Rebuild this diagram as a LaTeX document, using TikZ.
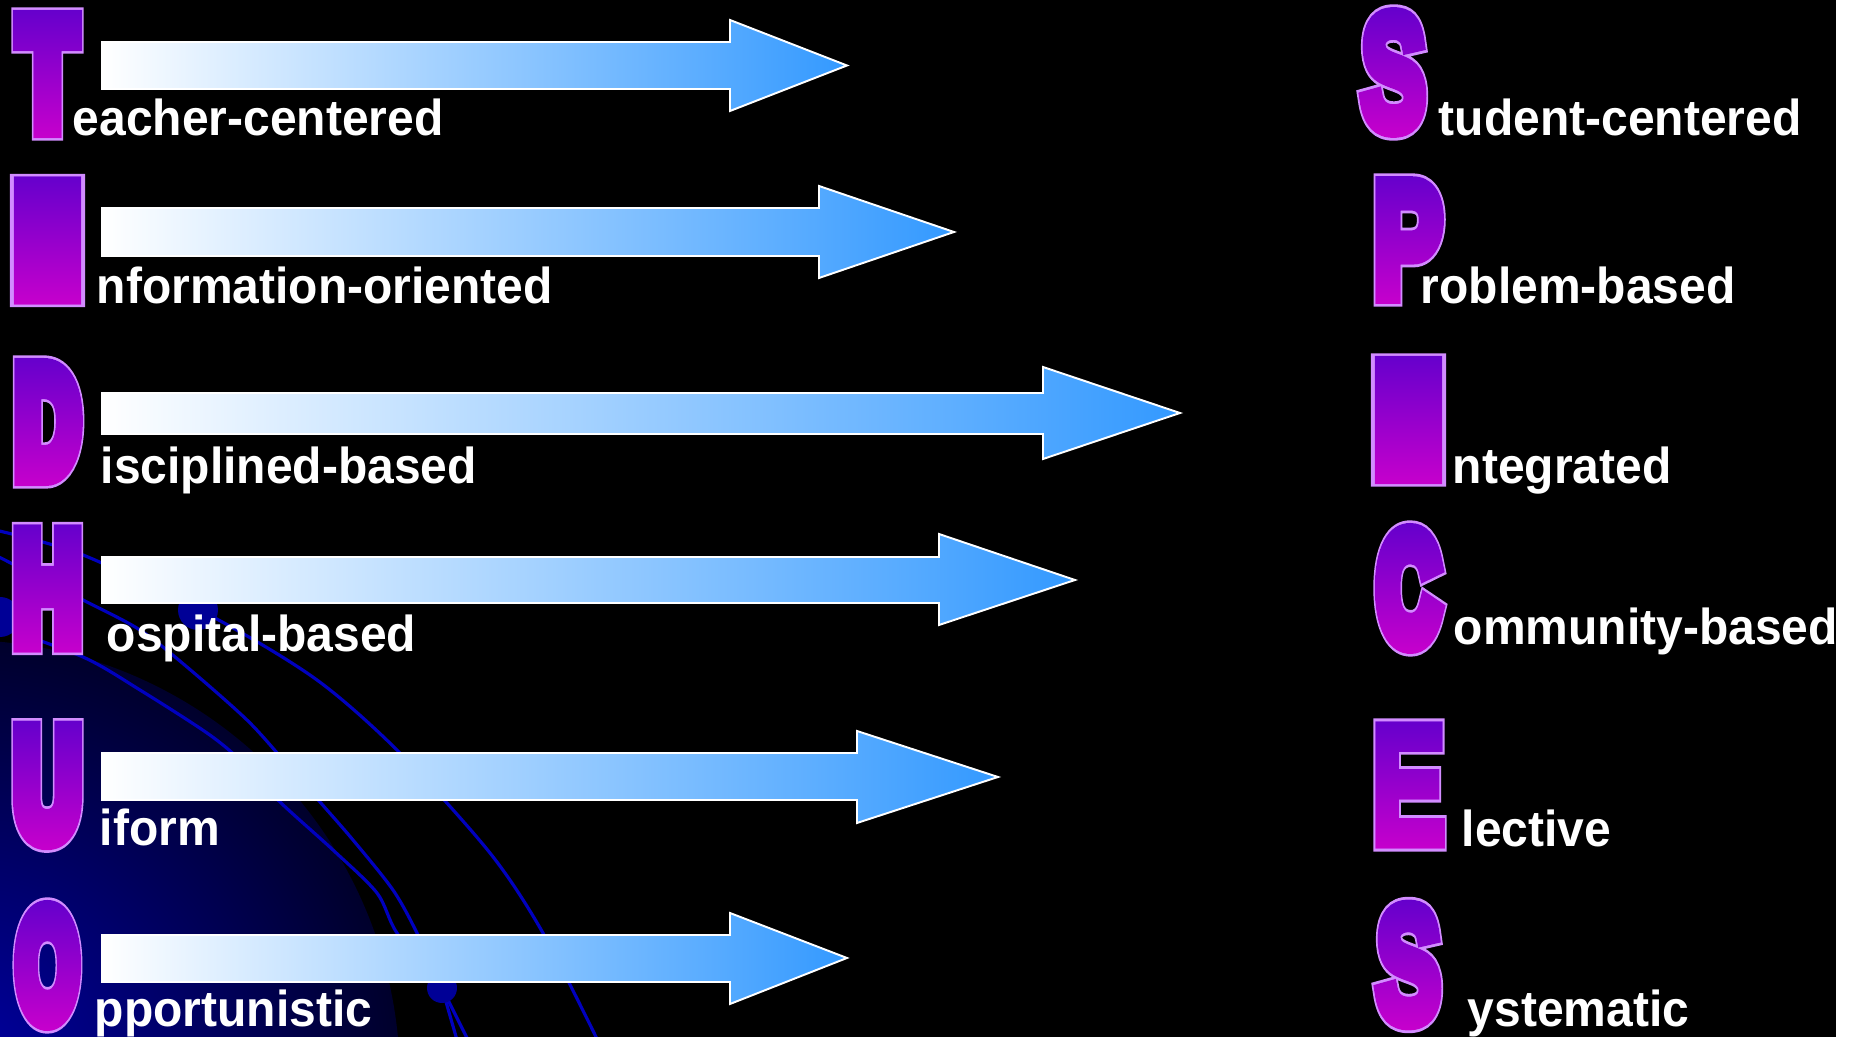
\documentclass[tikz,border=0pt]{standalone}
\usepackage{fontspec}
\usetikzlibrary{fadings}
\setmainfont{Liberation Sans}
\newfontfamily\lblfont{Liberation Sans}[FakeStretch=0.95]
% heavy letters
\newfontfamily\hvfill{Liberation Sans}[BoldFeatures={FakeBold=16}]
\newfontfamily\hvline{Liberation Sans}[BoldFeatures={FakeBold=19.5}]
% medium letters
\newfontfamily\mdfill{Liberation Sans}[BoldFeatures={FakeBold=10}]
\newfontfamily\mdline{Liberation Sans}[BoldFeatures={FakeBold=13.5}]
% light letters
\newfontfamily\ltfill{Liberation Sans}[BoldFeatures={FakeBold=7}]
\newfontfamily\ltline{Liberation Sans}[BoldFeatures={FakeBold=10.5}]
\newcommand\hvplain{\normalfont\fontsize{42.9pt}{43pt}\selectfont\bfseries}
\newcommand\hvfillf{\hvfill\fontsize{42.9pt}{43pt}\selectfont\bfseries}
\newcommand\hvlinef{\hvline\fontsize{42.9pt}{43pt}\selectfont\bfseries}
\newcommand\mdplain{\normalfont\fontsize{46pt}{46pt}\selectfont\bfseries}
\newcommand\mdfillf{\mdfill\fontsize{46pt}{46pt}\selectfont\bfseries}
\newcommand\mdlinef{\mdline\fontsize{46pt}{46pt}\selectfont\bfseries}
\newcommand\ltplain{\normalfont\fontsize{47.8pt}{48pt}\selectfont\bfseries}
\newcommand\ltfillf{\ltfill\fontsize{47.8pt}{48pt}\selectfont\bfseries}
\newcommand\ltlinef{\ltline\fontsize{47.8pt}{48pt}\selectfont\bfseries}

% a box with the plain glyph's metrics, holding the emboldened glyph at the same origin
\newcommand\glyphbox[3]{\setbox0=\hbox{#1#3}\hbox to \wd0{\rlap{\smash{#2#3}}\hss\vrule height\ht0 depth\dp0 width0pt}}
% symmetric padding so that the emboldened glyph is not clipped inside a fading
\newcommand\padbox[1]{\setbox2=\hbox{#1}\hbox{\kern20pt\vrule height\dimexpr\ht2+20pt\relax depth\dimexpr\dp2+20pt\relax width0pt\box2\kern20pt}}

\definecolor{lettop}{RGB}{96,0,204}
\definecolor{letbot}{RGB}{204,0,204}
\definecolor{letline}{RGB}{210,140,255}
\definecolor{arrowblue}{RGB}{51,153,255}
\definecolor{glowc}{RGB}{0,0,165}
\definecolor{bgline}{RGB}{0,0,190}
\definecolor{dotc}{RGB}{0,0,150}

\pgfdeclareradialshading{glowshade}{\pgfpoint{0bp}{0bp}}{color(0bp)=(glowc); color(34bp)=(black); color(50bp)=(black)}

% name, xscale, plain font, fill font, letter
\newcommand\mkfade[5]{\pgfdeclarefading{#1}{\scalebox{#2}[1]{\color{white}\padbox{\glyphbox{#3}{#4}{#5}}}}}
\mkfade{fadeT}{0.611}{\hvplain}{\hvfillf}{T}
\mkfade{fadeI}{1.467}{\hvplain}{\hvfillf}{I}
\mkfade{fadeD}{0.587}{\hvplain}{\hvfillf}{D}
\mkfade{fadeH}{0.604}{\hvplain}{\hvfillf}{H}
\mkfade{fadeU}{0.602}{\hvplain}{\hvfillf}{U}
\mkfade{fadeO}{0.521}{\hvplain}{\hvfillf}{O}
\mkfade{fadeC}{0.558}{\hvplain}{\hvfillf}{C}
\mkfade{fadeS}{0.592}{\mdplain}{\mdfillf}{S}
\mkfade{fadeP}{0.636}{\mdplain}{\mdfillf}{P}
\mkfade{fadeE}{0.655}{\ltplain}{\ltfillf}{E}

\begin{document}
\begin{tikzpicture}[x=0.01cm,y=-0.01cm,
  lbl/.style={text=white, font=\lblfont\fontsize{14.37pt}{17pt}\selectfont\bfseries, inner sep=0, anchor=base west},
  bigl/.style={text=letline, inner sep=0},
  arr/.style={draw=white, line width=0.55pt, left color=white, right color=arrowblue, line join=miter},
  bgcurve/.style={draw=bgline, line width=0.9pt},
  bgdot/.style={fill=dotc}
]
\useasboundingbox (0,0) rectangle (1856,1037);
% background
\fill[black] (0,0) rectangle (1836,1037);
\fill[white] (1836,0) rectangle (1856,1037);
\begin{scope}
  \clip (0,0) rectangle (1836,1037);
  \shade[shading=glowshade] (-40,1080) circle (440);
  \draw[bgcurve] plot[smooth] coordinates {(-5,530) (83,555) (213,617) (317,680) (400,753) (490,853) (543,933) (600,1045)};
  \draw[bgcurve] plot[smooth] coordinates {(-5,555) (83,600) (140,630) (187,667) (247,720) (285,762) (320,802) (353,840) (393,890) (417,933) (442,988)};
  \draw[bgcurve] plot[smooth] coordinates {(-5,625) (83,657) (140,690) (207,733) (240,760) (280,802) (333,850) (377,893) (397,933) (442,988)};
  \draw[bgcurve] (442,988) -- (457,1040);
  \draw[bgcurve] (442,988) -- (468,1040);
  \fill[bgdot] (198,610) circle (20);
  \fill[bgdot] (0,617) circle (20);
  \fill[bgdot] (442,988) circle (15);
\end{scope}

% block arrows
\draw[arr] (102,42) -- (730,42) -- (730,20) -- (847,65.5) -- (730,111) -- (730,89) -- (102,89) -- cycle;
\draw[arr] (102,208) -- (819,208) -- (819,186) -- (954,232) -- (819,278) -- (819,256) -- (102,256) -- cycle;
\draw[arr] (102,393) -- (1043,393) -- (1043,367) -- (1180,413) -- (1043,459) -- (1043,434) -- (102,434) -- cycle;
\draw[arr] (102,557) -- (939,557) -- (939,534) -- (1075,580) -- (939,625) -- (939,603) -- (102,603) -- cycle;
\draw[arr] (102,753) -- (857,753) -- (857,731) -- (998,777) -- (857,823) -- (857,800) -- (102,800) -- cycle;
\draw[arr] (102,935) -- (730,935) -- (730,913) -- (847,958) -- (730,1004) -- (730,982) -- (102,982) -- cycle;

% big letters: #1 name, #2 cx, #3 cy, #4 xscale, #5 letter, #6 fading, #7 plain font, #8 outline font
\newcommand\bigL[8]{%
  \node[bigl, xscale=#4] (#1) at (#2,#3) {\glyphbox{#7}{#8}{#5}};
  \shade[path fading=#6, fit fading=false, fading transform={shift={(#2,#3)}},
         top color=lettop, bottom color=letbot] (#2,#3) ++(-48,-72) rectangle ++(96,144);}
\bigL{lT}{47.5}{74}{0.611}{T}{fadeT}{\hvplain}{\hvlinef}
\bigL{lI}{47.5}{240.5}{1.467}{I}{fadeI}{\hvplain}{\hvlinef}
\bigL{lD}{47.5}{422}{0.587}{D}{fadeD}{\hvplain}{\hvlinef}
\bigL{lH}{47.5}{588.5}{0.604}{H}{fadeH}{\hvplain}{\hvlinef}
\bigL{lU}{47.5}{785.5}{0.602}{U}{fadeU}{\hvplain}{\hvlinef}
\bigL{lO}{47.5}{965.5}{0.521}{O}{fadeO}{\hvplain}{\hvlinef}
\bigL{rS}{1393.5}{72.5}{0.592}{S}{fadeS}{\mdplain}{\mdlinef}
\bigL{rP}{1408}{240}{0.636}{P}{fadeP}{\mdplain}{\mdlinef}
\bigL{rI}{1408.5}{420}{1.467}{I}{fadeI}{\hvplain}{\hvlinef}
\bigL{rC}{1408.5}{588.5}{0.558}{C}{fadeC}{\hvplain}{\hvlinef}
\bigL{rE}{1408.5}{785}{0.655}{E}{fadeE}{\ltplain}{\ltlinef}
\bigL{rS2}{1408.5}{965}{0.592}{S}{fadeS}{\mdplain}{\mdlinef}

% labels
\node[lbl] (tT) at (72,136) {eacher-centered};
\node[lbl] (tI) at (96,304) {nformation-oriented};
\node[lbl] (tD) at (100,484) {isciplined-based};
\node[lbl] (tH) at (106,652) {ospital-based};
\node[lbl] (tU) at (99,846) {iform};
\node[lbl] (tO) at (94,1027) {pportunistic};
\node[lbl] (tS) at (1438,136) {tudent-centered};
\node[lbl] (tP) at (1420,304) {roblem-based};
\node[lbl] (tI2) at (1452,484) {ntegrated};
\node[lbl] (tC) at (1453,645) {ommunity-based};
\node[lbl] (tE) at (1461,847) {lective};
\node[lbl] (tS2) at (1467,1027) {ystematic};
\end{tikzpicture}
\end{document}
